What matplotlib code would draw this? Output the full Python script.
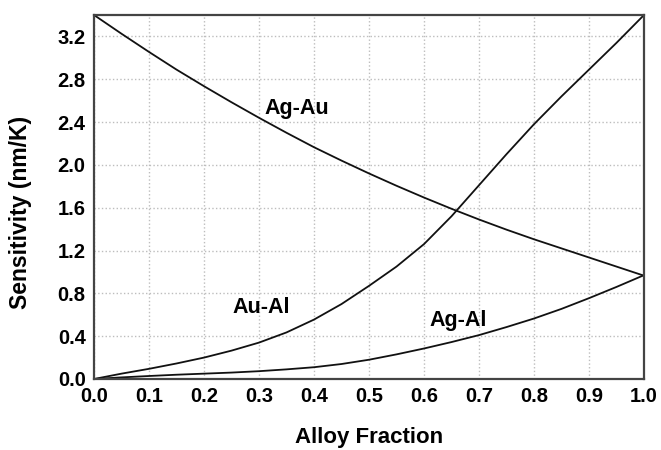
import matplotlib
matplotlib.use("Agg")
import matplotlib.pyplot as plt
import numpy as np

plt.rcParams['font.family'] = ['Liberation Sans', 'DejaVu Sans']

alloy_fraction = [0.0, 0.05, 0.1, 0.15, 0.2, 0.25, 0.3, 0.35, 0.4, 0.45, 0.5,
                  0.55, 0.6, 0.65, 0.7, 0.75, 0.8, 0.85, 0.9, 0.95, 1.0]
ag_au = [3.40, 3.225, 3.055, 2.89, 2.735, 2.585, 2.44, 2.30, 2.165, 2.04, 1.92,
         1.805, 1.695, 1.59, 1.49, 1.395, 1.305, 1.22, 1.135, 1.05, 0.965]
au_al = [0.00, 0.05, 0.095, 0.145, 0.20, 0.265, 0.34, 0.435, 0.555, 0.70, 0.87,
         1.05, 1.26, 1.52, 1.81, 2.10, 2.38, 2.64, 2.89, 3.14, 3.40]
ag_al = [0.00, 0.015, 0.028, 0.04, 0.05, 0.06, 0.073, 0.09, 0.11, 0.14, 0.18,
         0.23, 0.285, 0.345, 0.41, 0.485, 0.565, 0.655, 0.755, 0.86, 0.97]

labels = ["Ag-Au", "Au-Al", "Ag-Al"]
label_pos = [(0.368, 2.478), (0.3045, 0.615), (0.663, 0.499)]

x_ticks = [0.0, 0.1, 0.2, 0.3, 0.4, 0.5, 0.6, 0.7, 0.8, 0.9, 1.0]
y_ticks = [0.0, 0.4, 0.8, 1.2, 1.6, 2.0, 2.4, 2.8, 3.2]

fig = plt.figure(figsize=(6.61, 4.5), dpi=100)
ax = fig.add_axes([94/661, 1-379/450, 550/661, 364/450])

for ys in (ag_au, au_al, ag_al):
    ax.plot(alloy_fraction, ys, color='#111111', lw=1.3, solid_joinstyle='round')

for lab, (x, y) in zip(labels, label_pos):
    ax.text(x, y, lab, ha='center', va='baseline', fontsize=15.5, fontweight='bold')

ax.set_xlim(0, 1.0)
ax.set_ylim(0, 3.4)
ax.set_xticks(x_ticks)
ax.set_xticklabels([f"{v:.1f}" for v in x_ticks])
ax.set_yticks(y_ticks)
ax.set_yticklabels([f"{v:.1f}" for v in y_ticks])
ax.grid(True, color='#bdbdbd', linestyle=':', linewidth=1.0)
ax.tick_params(length=0, labelsize=14.5)
ax.tick_params(axis='x', pad=6)
ax.tick_params(axis='y', pad=6)
for lbl in ax.get_xticklabels() + ax.get_yticklabels():
    lbl.set_fontweight('bold')
for sp in ax.spines.values():
    sp.set_color('#444444')
    sp.set_linewidth(1.6)

fig.text(369/661, 1-443/450, "Alloy Fraction", ha='center', va='baseline',
         fontsize=16, fontweight='bold')
fig.text(21/661, 1-212/450, "Sensitivity (nm/K)", ha='center', va='center',
         rotation=90, fontsize=16.5, fontweight='bold')

fig.savefig("out.png", dpi=100)
